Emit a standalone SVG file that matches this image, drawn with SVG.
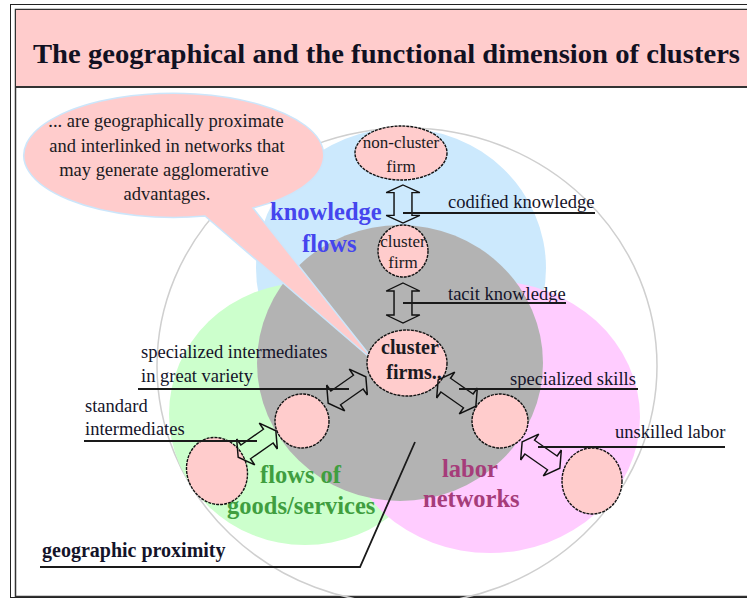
<svg xmlns="http://www.w3.org/2000/svg" width="747" height="598" viewBox="0 0 747 598">
  <style>
    .lbl { font-family: "Liberation Serif", "Times New Roman", serif; font-size: 18.5px; fill: #14142a; }
    .bub { font-family: "Liberation Serif", "Times New Roman", serif; font-size: 18.5px; fill: #1a1a22; text-anchor: middle; }
    .nodeTxt { font-family: "Liberation Serif", "Times New Roman", serif; font-size: 17px; fill: #1a1a22; text-anchor: middle; }
    .coreTxt { font-family: "Liberation Serif", "Times New Roman", serif; font-size: 20px; font-weight: bold; fill: #1a1a22; text-anchor: middle; }
    .region { font-family: "Liberation Serif", "Times New Roman", serif; font-size: 24.5px; font-weight: bold; }
    .firm { fill: #ffcccc; stroke: #111; stroke-width: 1.4; stroke-dasharray: 3 1; }
    .arrow { fill: none; stroke: #111; stroke-width: 1.3; stroke-linejoin: miter; }
    .lead { fill: none; stroke: #1a1a1a; stroke-width: 1.8; }
  </style>
  <defs>
    <!-- hollow double-headed block arrow, centred on the origin, pointing along x -->
    <path id="dbl" d="M -20 0 L -12 -15 L -12 -8 L 12 -8 L 12 -15 L 20 0 L 12 15 L 12 8 L -12 8 L -12 15 Z"/>
  </defs>

  <!-- page frame -->
  <rect x="0" y="0" width="747" height="598" fill="#ffffff"/>
  <rect x="10.5" y="4.5" width="745" height="593" fill="none" stroke="#222" stroke-width="1"/>
  <rect x="15.5" y="9.5" width="740" height="587" fill="none" stroke="#333" stroke-width="1.5"/>

  <!-- title bar -->
  <g id="title">
    <rect x="16" y="10" width="731" height="77" fill="#ffcccc"/>
    <line x1="15" y1="87" x2="747" y2="87" stroke="#333" stroke-width="2"/>
    <text x="33" y="63" font-family="'Liberation Serif', 'Times New Roman', serif" font-size="28" font-weight="bold" fill="#111122" textLength="707" lengthAdjust="spacingAndGlyphs">The geographical and the functional dimension of clusters</text>
  </g>

  <!-- geographic proximity boundary -->
  <ellipse cx="407" cy="366" rx="250" ry="238" fill="none" stroke="#cfcfcf" stroke-width="1.5"/>

  <!-- network areas -->
  <g id="knowledge-flows">
    <ellipse cx="401" cy="268" rx="145" ry="140" fill="#cce9fd"/>
  </g>
  <g id="goods-flows">
    <ellipse cx="305" cy="414" rx="136" ry="131" fill="#ccffcc"/>
  </g>
  <g id="labor-networks">
    <ellipse cx="490" cy="417" rx="150" ry="136" fill="#ffccff"/>
  </g>
  <g id="cluster-core">
    <ellipse cx="400" cy="363" rx="143" ry="138" fill="#b3b3b3"/>
  </g>

  <!-- callout bubble -->
  <g id="callout">
    <path d="M 205 216 L 375 362 L 253 208 A 150 62 0 1 0 205 216 Z" fill="#ffcccc" stroke="#cce6fb" stroke-width="1.5"/>
    <text class="bub" x="166" y="127">... are geographically proximate</text>
    <text class="bub" x="167" y="152">and interlinked in networks that</text>
    <text class="bub" x="164" y="176">may generate agglomerative</text>
    <text class="bub" x="167" y="200">advantages.</text>
  </g>

  <!-- area captions -->
  <g id="area-labels">
    <text class="region" x="270" y="220" fill="#4545ee">knowledge</text>
    <text class="region" x="302" y="252" fill="#4545ee">flows</text>
    <text class="region" x="260" y="483" fill="#3f9e3f">flows of</text>
    <text class="region" x="227" y="514" fill="#3f9e3f">goods/services</text>
    <text class="region" x="442" y="477" fill="#a63c7a">labor</text>
    <text class="region" x="423" y="507" fill="#a63c7a">networks</text>
  </g>

  <!-- firms -->
  <g id="non-cluster-firm">
    <ellipse class="firm" cx="401" cy="153" rx="46" ry="27"/>
    <text class="nodeTxt" x="401" y="148">non-cluster</text>
    <text class="nodeTxt" x="401" y="172">firm</text>
  </g>
  <g id="cluster-firm">
    <ellipse class="firm" cx="403" cy="251" rx="25" ry="26"/>
    <text class="nodeTxt" x="403" y="247">cluster</text>
    <text class="nodeTxt" x="403" y="268">firm</text>
  </g>
  <g id="cluster-firms">
    <ellipse class="firm" cx="407" cy="363" rx="40" ry="33"/>
    <text class="coreTxt" x="410" y="354">cluster</text>
    <text class="coreTxt" x="414" y="379">firms..</text>
  </g>
  <g id="intermediate-supplier">
    <ellipse class="firm" cx="302" cy="421" rx="27" ry="27"/>
  </g>
  <g id="standard-supplier">
    <ellipse class="firm" cx="217" cy="471" rx="30" ry="34" transform="rotate(-20 217 471)"/>
  </g>
  <g id="skilled-labor">
    <ellipse class="firm" cx="500" cy="421" rx="28" ry="27"/>
  </g>
  <g id="unskilled-labor">
    <ellipse class="firm" cx="592" cy="481" rx="30" ry="33"/>
  </g>

  <!-- connectors -->
  <g id="connectors">
    <use href="#dbl" class="arrow" transform="translate(403 204) rotate(90) scale(0.95 1.12)"/>
    <use href="#dbl" class="arrow" transform="translate(403 303) rotate(90) scale(1 1.12)"/>
    <use href="#dbl" class="arrow" transform="translate(347 390) rotate(-35) scale(1.15 1.05)"/>
    <use href="#dbl" class="arrow" transform="translate(457 393) rotate(35) scale(1.15 1.05)"/>
    <use href="#dbl" class="arrow" transform="translate(257 444) rotate(-35) scale(1.15 1.05)"/>
    <use href="#dbl" class="arrow" transform="translate(541 455) rotate(35) scale(1.15 1.05)"/>

    <polyline class="lead" points="403,213 595,213"/>
    <polyline class="lead" points="403,303 566,303"/>
    <polyline class="lead" points="138,389 349,389"/>
    <polyline class="lead" points="84,441 257,441"/>
    <polyline class="lead" points="459,389 638,389"/>
    <polyline class="lead" points="538,447 725,447"/>
    <polyline class="lead" points="40,567 360,567 415,442"/>
  </g>

  <!-- connector captions -->
  <g id="connector-labels">
    <text class="lbl" x="448" y="208">codified knowledge</text>
    <text class="lbl" x="448" y="300">tacit knowledge</text>
    <text class="lbl" x="141" y="358">specialized intermediates</text>
    <text class="lbl" x="141" y="382">in great variety</text>
    <text class="lbl" x="85" y="412">standard</text>
    <text class="lbl" x="85" y="435">intermediates</text>
    <text class="lbl" x="510" y="385">specialized skills</text>
    <text class="lbl" x="615" y="438">unskilled labor</text>
    <text x="42" y="557" font-family="'Liberation Serif', 'Times New Roman', serif" font-size="20" font-weight="bold" fill="#14142a">geographic proximity</text>
  </g>
</svg>
